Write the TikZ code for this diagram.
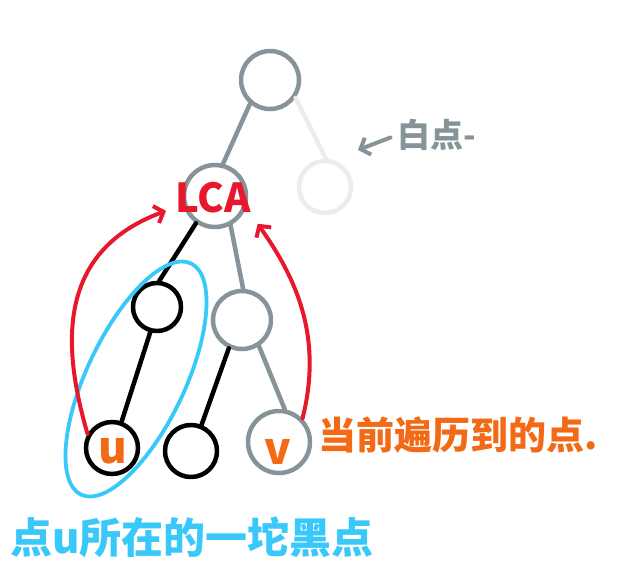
\documentclass[tikz,border=0pt]{standalone}
\usepackage{fontspec}
\setmainfont{Noto Sans CJK SC}
\usetikzlibrary{arrows.meta,shapes.geometric}
\definecolor{gnode}{RGB}{134,148,153}
\definecolor{faded}{RGB}{236,236,236}
\definecolor{redl}{RGB}{232,24,44}
\definecolor{bluel}{RGB}{56,200,250}
\definecolor{orangel}{RGB}{243,106,22}
\tikzset{
  nd/.style={circle, draw, line width=4.5pt, inner sep=0pt},
  gnd/.style={nd, draw=gnode},
  bnd/.style={nd, draw=black},
  fnd/.style={nd, draw=faded},
  gedge/.style={draw=gnode, line width=4.5pt},
  bedge/.style={draw=black, line width=4.5pt},
  fedge/.style={draw=faded, line width=4.5pt},
  redarrow/.style={draw=redl, line width=4pt, -{Straight Barb[length=8pt,width=18pt,line width=4pt]}},
  grayarrow/.style={draw=gnode, line width=4pt, -{Straight Barb[length=8pt,width=18pt,line width=4pt]}},
  group/.style={ellipse, draw=bluel, line width=3.8pt, inner sep=0pt},
  lbl/.style={inner sep=0pt, text=orangel, font=\fontsize{44}{50}\selectfont\bfseries},
  note/.style={anchor=west, inner sep=0pt},
}
\begin{document}
\begin{tikzpicture}[x=1pt,y=-1pt, line cap=round, line join=round]
\useasboundingbox (0,0) rectangle (633,582);
% nodes
\node[gnd, minimum size=58pt] (root) at (270,80) {};
\node[fnd, minimum size=52pt] (fd) at (325,187) {};
\node[gnd, minimum size=62pt] (lca) at (215,196) {};
\node[bnd, minimum size=48pt] (b1) at (157,307) {};
\node[gnd, minimum size=58pt] (g2) at (242,320) {};
\node[bnd, minimum size=52pt] (u) at (112,448) {};
\node[bnd, minimum size=52pt] (b2) at (191,451) {};
\node[gnd, minimum size=62pt] (v) at (279,442) {};
% edges
\draw[gedge] (root.230) -- (lca.76);
\draw[fedge] (root.-35) -- (fd.88);
\draw[bedge] (lca.235) -- (b1.85);
\draw[gedge] (lca.-62) -- (g2.88);
\draw[bedge] (b1.255) -- (u.70);
\draw[bedge] (g2.245) -- (b2.68);
\draw[gedge] (g2.-57) -- (v.80);
% labels in nodes
\node[inner sep=0pt, text=redl, font=\fontsize{40}{46}\selectfont\bfseries] (lcat) at (213,198) {LCA};
\node[lbl] (ut) at (113,451) {u};
\node[lbl] (vt) at (278,452) {v};
% blue group
\node[group, minimum width=256pt, minimum height=98pt, rotate=64.6] (grp) at (136,379) {};
% red arrows
\draw[redarrow, shorten >=18pt] (u.150) .. controls (60,340) and (60,250) .. (lca.195);
\draw[redarrow, shorten >=20pt] (v.45) .. controls (325,330) and (290,270) .. (lca.-20);
% annotations
\node[note, text=gnode, font=\fontsize{33}{38}\selectfont\bfseries] (wl) at (397,135) {白点-};
\coordinate (wtip) at (358,150);
\draw[grayarrow, shorten <=7pt] (wl.west) -- (wtip);
\node[note, text=orangel, font=\fontsize{38}{44}\selectfont\bfseries] (cur) at (318,435) {当前遍历到的点.};
\node[note, text=bluel, font=\fontsize{42}{48}\selectfont\bfseries] (grpt) at (10,537) {点u所在的一坨黑点};
\end{tikzpicture}
\end{document}
